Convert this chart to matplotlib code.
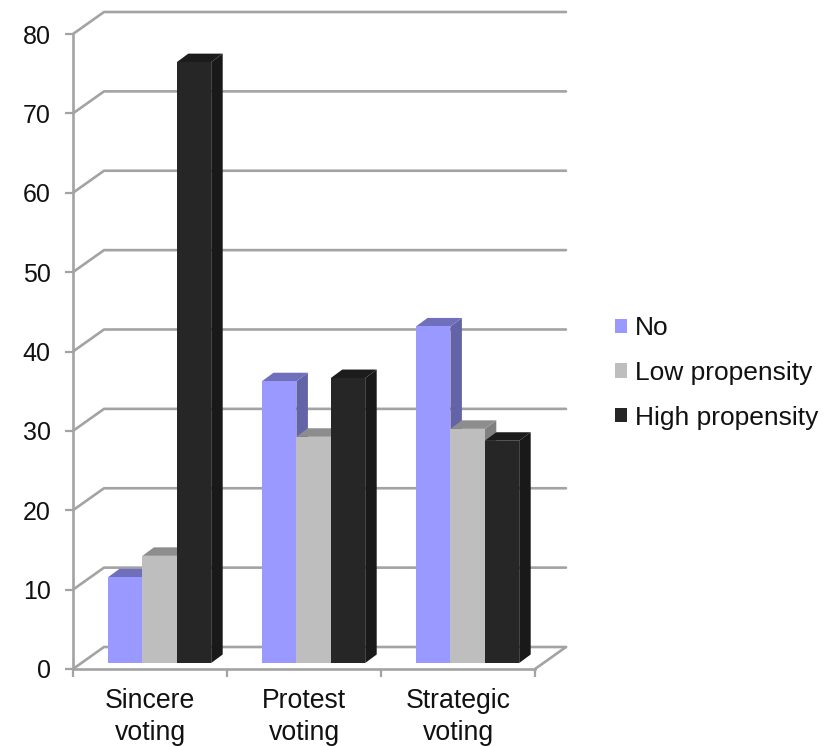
import matplotlib
matplotlib.use("Agg")
import matplotlib.pyplot as plt
from matplotlib.patches import Polygon, Patch

plt.rcParams['font.family'] = ['Liberation Sans', 'DejaVu Sans']

categories = ["Sincere\nvoting", "Protest\nvoting", "Strategic\nvoting"]
series_names = ["No", "Low propensity", "High propensity"]
no_values = [10.8, 35.5, 42.4]
low_values = [13.5, 28.5, 29.5]
high_values = [75.7, 35.9, 28.0]
y_ticks = [0, 10, 20, 30, 40, 50, 60, 70, 80]

front_colors = ["#9999ff", "#bebebe", "#262626"]
top_colors = ["#6f6fbc", "#8d8d8d", "#1c1c1c"]
side_colors = ["#6363a8", "#808080", "#191919"]
grid_color = "#a3a3a3"
text_color = "#111111"

W, H = 832, 746
fig = plt.figure(figsize=(W / 100, H / 100), dpi=100)
left, right, y_bottom, y_top = 73, 535, 669, 34
ax = fig.add_axes([left / W, 1 - y_bottom / H, (right - left) / W, (y_bottom - y_top) / H])
ax.set_xlim(0, 3)
ax.set_ylim(0, 80)

px_x = 3 / (right - left)
px_y = 80 / (y_bottom - y_top)

# depth of the chart box and of each bar, in data units
wall_dx, wall_dy = 31 * px_x, 22 * px_y
bar_dx, bar_dy = 11.5 * px_x, 8.5 * px_y
bar_w = 34.4 * px_x
bar_start = 35 * px_x
base = 6 * px_y

line = dict(color=grid_color, lw=1.9, solid_capstyle="round", clip_on=False, zorder=1)

# back wall gridlines and their diagonal returns to the value axis
for t in y_ticks:
    ax.plot([0, wall_dx, 3 + wall_dx], [t, t + wall_dy, t + wall_dy], **line)
ax.plot([3, 3 + wall_dx], [0, wall_dy], **line)

# bars with top and side faces for the extruded look
for g in range(3):
    for s, vals in enumerate([no_values, low_values, high_values]):
        x0 = g + bar_start + s * bar_w
        top = base + vals[g]
        x1 = x0 + bar_w
        z = 3 + s
        ax.add_patch(Polygon([(x1, base), (x1 + bar_dx, base + bar_dy), (x1 + bar_dx, top + bar_dy), (x1, top)],
                             closed=True, fc=side_colors[s], ec="none", clip_on=False, zorder=z))
        ax.add_patch(Polygon([(x0, top), (x0 + bar_dx, top + bar_dy), (x1 + bar_dx, top + bar_dy), (x1, top)],
                             closed=True, fc=top_colors[s], ec="none", clip_on=False, zorder=z))
        ax.bar(x0, vals[g], width=bar_w, bottom=base, align="edge", color=front_colors[s], zorder=z, clip_on=False)

for name in ["top", "right"]:
    ax.spines[name].set_visible(False)
for name in ["left", "bottom"]:
    ax.spines[name].set_color(grid_color)
    ax.spines[name].set_linewidth(1.9)
    ax.spines[name].set_zorder(2)

ax.set_yticks(y_ticks)
ax.set_xticks([0, 1, 2, 3])
ax.set_xticklabels([])
ax.set_xticks([0.5, 1.5, 2.5], minor=True)
ax.set_xticklabels(categories, minor=True, fontsize=19.2, color=text_color, linespacing=1.3)
ax.tick_params(axis="x", which="minor", length=0, pad=13.5)
ax.tick_params(axis="x", which="major", length=6, width=1.6, color=grid_color, direction="out")
ax.tick_params(axis="y", length=6, width=1.6, color=grid_color, direction="out", labelsize=18,
               labelcolor=text_color, pad=10)

handles = [Patch(fc=c, ec="none") for c in front_colors]
ax.legend(handles, series_names, loc="center left", bbox_to_anchor=(615 / W, 1 - 373 / H),
          bbox_transform=fig.transFigure, frameon=False, fontsize=19, labelcolor=text_color,
          handlelength=0.46, handleheight=0.46, handletextpad=0.3, labelspacing=0.78,
          borderpad=0, borderaxespad=0)

fig.savefig("out.png", dpi=100, facecolor="white")
